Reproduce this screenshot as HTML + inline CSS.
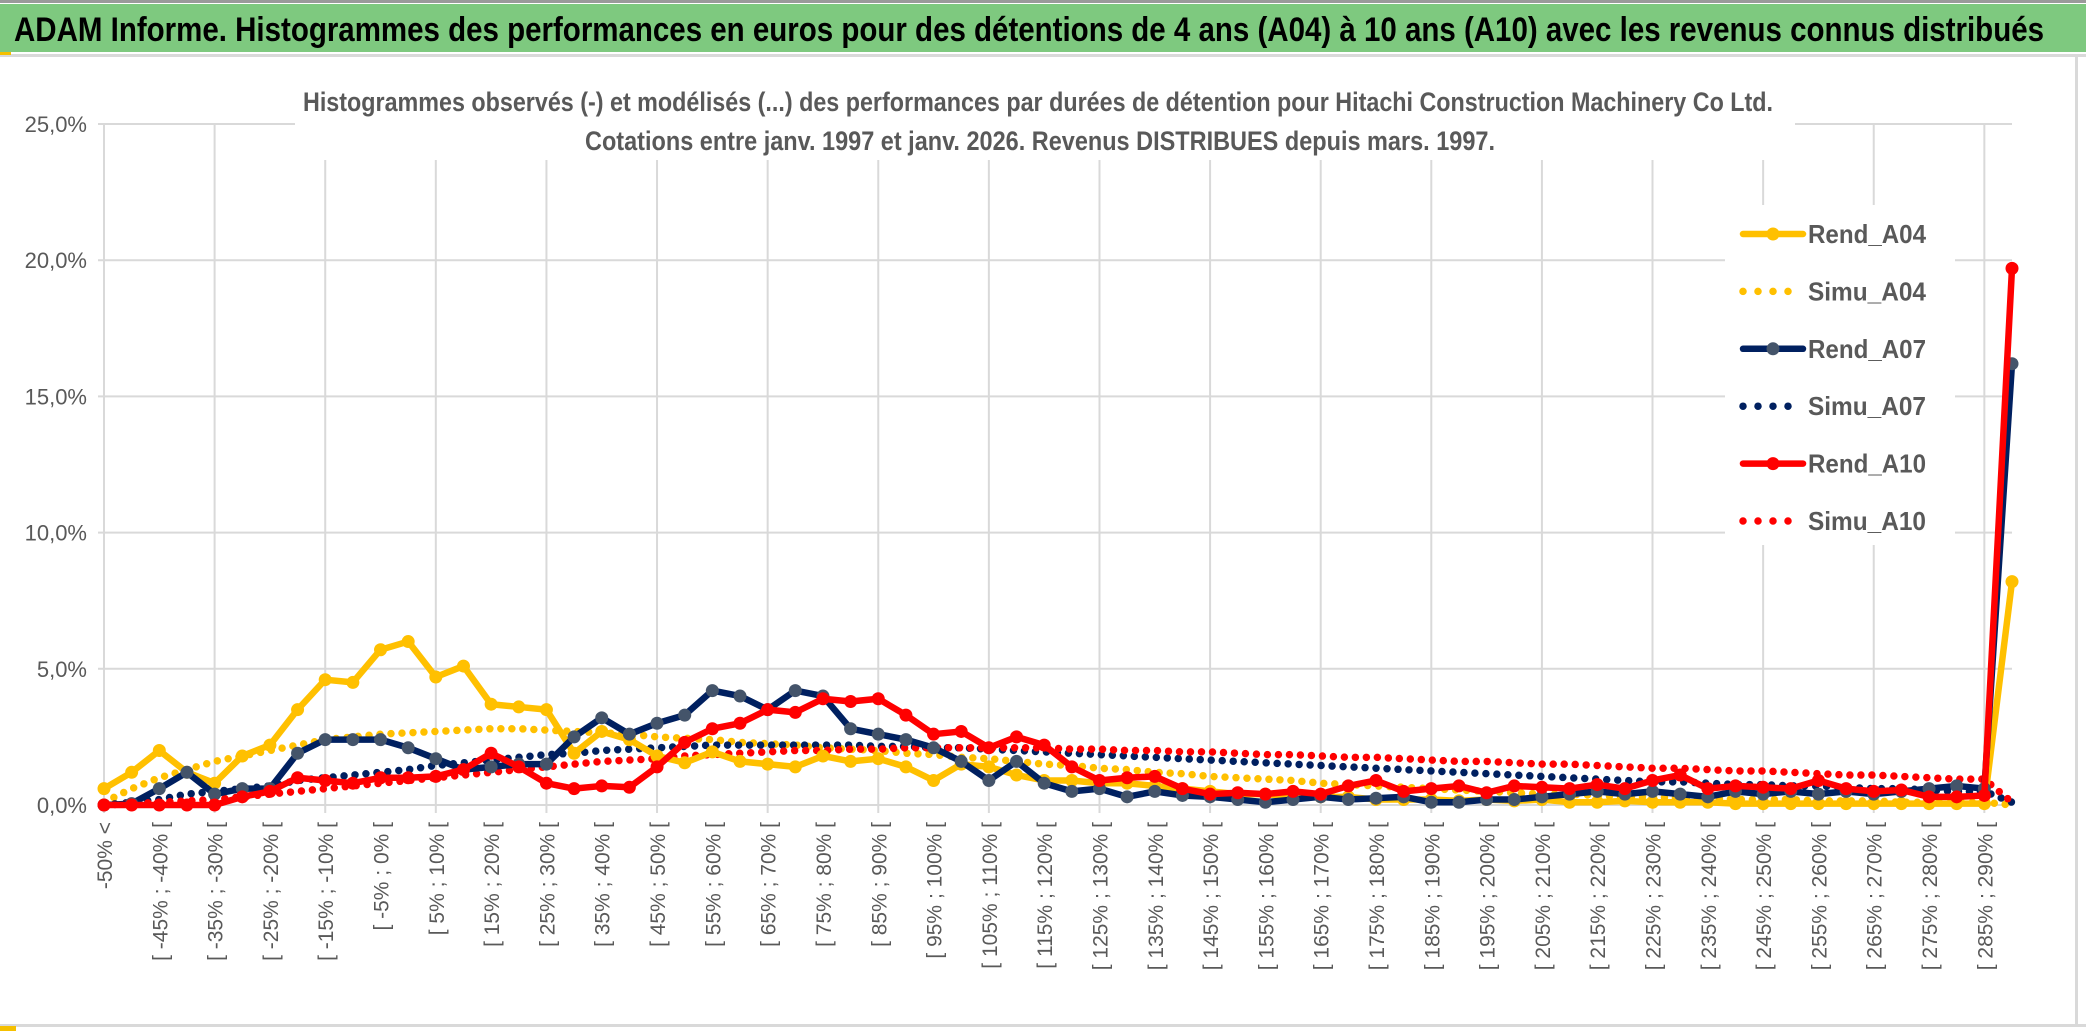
<!DOCTYPE html>
<html><head><meta charset="utf-8"><style>
html,body{margin:0;padding:0;background:#fff;}
svg{display:block;font-family:"Liberation Sans",sans-serif;}
</style></head><body>
<svg id="chart" width="2086" height="1033" viewBox="0 0 2086 1033" xmlns="http://www.w3.org/2000/svg">
<rect x="0" y="0" width="2086" height="1033" fill="#fff"/>
<rect x="0" y="0" width="2086" height="3" fill="#9a9a9a"/>
<rect x="0" y="4" width="2086" height="48" fill="#7ec97f"/>
<text x="14" y="41" font-size="34" font-weight="bold" fill="#000" textLength="2030" lengthAdjust="spacingAndGlyphs">ADAM Informe. Histogrammes des performances en euros pour des détentions de 4 ans (A04) à 10 ans (A10) avec les revenus connus distribués</text>
<rect x="0" y="54" width="2086" height="3" fill="#d9d9d9"/>
<rect x="0" y="52" width="11" height="3" fill="#f5c000"/>
<rect x="0" y="1024" width="2086" height="3" fill="#d9d9d9"/>
<rect x="0" y="1026" width="16" height="5" fill="#f5c000"/>
<rect x="2075" y="55" width="3" height="972" fill="#d9d9d9"/>
<g id="grid"></g>
<g id="ylabels"></g>
<g id="xlabels"></g>
<rect x="295" y="80" width="1500" height="80" fill="#fff"/>
<text x="1038" y="111" font-size="27" font-weight="bold" fill="#595959" text-anchor="middle" textLength="1470" lengthAdjust="spacingAndGlyphs">Histogrammes observés (-) et modélisés (...) des performances par durées de détention pour Hitachi Construction Machinery Co Ltd.</text>
<text x="1040" y="150" font-size="27" font-weight="bold" fill="#595959" text-anchor="middle" textLength="910" lengthAdjust="spacingAndGlyphs">Cotations entre janv. 1997 et janv. 2026. Revenus DISTRIBUES depuis mars. 1997.</text>
<rect x="1725" y="205" width="230" height="340" fill="#fff"/>
<g id="series"></g>
<g id="legend"></g>
</svg>
<script>
const categories = (function(){const a=["-50% <"];for(let lo=-50;lo<=285;lo+=5){a.push("[ "+lo+"% ; "+(lo+5)+"% [");}a.push("> 290%");return a;})();
const yTicks = [0,5,10,15,20,25];
const yTickLabels = ["0,0%","5,0%","10,0%","15,0%","20,0%","25,0%"];
const rendA04 = [0.6,1.2,2.0,1.2,0.8,1.8,2.2,3.5,4.6,4.5,5.7,6.0,4.7,5.1,3.7,3.6,3.5,1.9,2.7,2.4,1.8,1.55,1.95,1.6,1.5,1.4,1.8,1.6,1.7,1.4,0.9,1.5,1.4,1.1,0.9,0.9,0.8,0.8,0.7,0.6,0.5,0.4,0.4,0.3,0.3,0.3,0.2,0.2,0.2,0.15,0.2,0.15,0.2,0.1,0.1,0.15,0.1,0.1,0.1,0.05,0.05,0.05,0.05,0.05,0.05,0.05,0.05,0.05,0.05,8.2];
const simuA04 = [0.1,0.6,1.0,1.3,1.6,1.8,2.0,2.2,2.4,2.5,2.6,2.65,2.7,2.75,2.8,2.8,2.75,2.7,2.65,2.6,2.5,2.45,2.4,2.3,2.25,2.2,2.1,2.05,2.0,1.9,1.85,1.75,1.7,1.6,1.5,1.45,1.35,1.3,1.2,1.15,1.05,1.0,0.95,0.9,0.8,0.75,0.7,0.65,0.6,0.55,0.5,0.45,0.4,0.4,0.35,0.3,0.3,0.25,0.25,0.2,0.2,0.2,0.15,0.15,0.15,0.1,0.1,0.1,0.1,0.0];
const rendA07 = [0.0,0.05,0.6,1.2,0.4,0.6,0.6,1.9,2.4,2.4,2.4,2.1,1.7,1.3,1.4,1.5,1.5,2.5,3.2,2.6,3.0,3.3,4.2,4.0,3.5,4.2,4.0,2.8,2.6,2.4,2.1,1.6,0.9,1.6,0.8,0.5,0.6,0.3,0.5,0.35,0.3,0.2,0.1,0.2,0.3,0.2,0.25,0.3,0.1,0.1,0.2,0.2,0.3,0.4,0.5,0.4,0.5,0.4,0.3,0.5,0.4,0.5,0.4,0.5,0.4,0.5,0.6,0.7,0.6,16.2];
const simuA07 = [0.0,0.1,0.2,0.4,0.5,0.6,0.7,0.9,1.0,1.1,1.2,1.3,1.45,1.55,1.65,1.75,1.85,1.9,2.0,2.05,2.1,2.15,2.2,2.2,2.2,2.2,2.2,2.2,2.15,2.15,2.1,2.1,2.05,2.0,1.95,1.9,1.85,1.8,1.75,1.7,1.65,1.6,1.55,1.5,1.45,1.4,1.35,1.3,1.25,1.2,1.15,1.1,1.05,1.0,0.95,0.9,0.85,0.85,0.8,0.75,0.75,0.7,0.7,0.65,0.6,0.6,0.55,0.5,0.5,0.1];
const rendA10 = [0.0,0.0,0.0,0.0,0.0,0.3,0.5,1.0,0.9,0.8,1.0,1.0,1.05,1.3,1.9,1.4,0.8,0.6,0.7,0.65,1.4,2.3,2.8,3.0,3.5,3.4,3.9,3.8,3.9,3.3,2.6,2.7,2.1,2.5,2.2,1.4,0.9,1.0,1.05,0.6,0.4,0.45,0.4,0.5,0.4,0.7,0.9,0.5,0.6,0.7,0.45,0.7,0.65,0.6,0.75,0.6,0.9,1.1,0.6,0.7,0.65,0.6,0.9,0.6,0.5,0.55,0.3,0.3,0.35,19.7];
const simuA10 = [0.0,0.05,0.1,0.15,0.2,0.3,0.4,0.5,0.6,0.7,0.8,0.9,1.0,1.1,1.2,1.3,1.4,1.5,1.6,1.65,1.7,1.8,1.85,1.9,1.95,2.0,2.0,2.05,2.05,2.1,2.1,2.1,2.1,2.1,2.1,2.05,2.05,2.0,2.0,1.95,1.95,1.9,1.85,1.85,1.8,1.75,1.75,1.7,1.65,1.6,1.6,1.55,1.5,1.5,1.45,1.4,1.35,1.35,1.3,1.25,1.25,1.2,1.15,1.1,1.1,1.05,1.0,0.95,0.95,0.1];
const seriesNames = ["Rend_A04","Simu_A04","Rend_A07","Simu_A07","Rend_A10","Simu_A10"];

const NS="http://www.w3.org/2000/svg";
const X0=104, X1=2012, Y0=805, Y25=124;
function xPos(i){return X0+(X1-X0)*i/(categories.length-1);}
function yPos(v){return Y0-(Y0-Y25)*v/25;}
function mk(tag,attrs,parent){const e=document.createElementNS(NS,tag);for(const k in attrs)e.setAttribute(k,attrs[k]);parent.appendChild(e);return e;}

const grid=document.getElementById('grid');
yTicks.forEach(function(t){
  const l=mk('line',{x1:X0-6,x2:X1,y1:yPos(t),y2:yPos(t),stroke:'#d9d9d9','stroke-width':2},grid);
  
  
});
for(let i=0;i<categories.length;i+=4){
  const l=mk('line',{x1:xPos(i),x2:xPos(i),y1:Y25,y2:Y0+8,stroke:'#d9d9d9','stroke-width':2},grid);
  
  
}
const yl=document.getElementById('ylabels');
yTicks.forEach(function(t,k){
  const e=mk('text',{x:87,y:yPos(t)+8,'font-size':22,fill:'#595959','text-anchor':'end'},yl);
  e.textContent=yTickLabels[k];
  
  
});
const xl=document.getElementById('xlabels');
for(let i=0;i<categories.length-1;i+=2){
  const x=xPos(i)+8, y=822;
  const e=mk('text',{x:x,y:y,'font-size':21,fill:'#595959','text-anchor':'end',transform:'rotate(-90 '+x+' '+y+')'},xl);
  e.textContent=categories[i];
  
  
}
const sg=document.getElementById('series');
function pts(arr){return arr.map(function(v,i){return xPos(i)+','+yPos(v);}).join(' ');}
function dotted(arr,color,name){
  const p=mk('polyline',{points:pts(arr),fill:'none',stroke:color,'stroke-width':7.5,'stroke-linecap':'round','stroke-dasharray':'0 11'},sg);
  
  
}
function solid(arr,color,mcolor,name){
  const p=mk('polyline',{points:pts(arr),fill:'none',stroke:color,'stroke-width':6.5,'stroke-linejoin':'round'},sg);
  
  
  arr.forEach(function(v,i){
    const c=mk('circle',{cx:xPos(i),cy:yPos(v),r:6.5,fill:mcolor},sg);
    
    
  });
}
dotted(simuA04,'#ffc000','simu-a04-line');
dotted(simuA07,'#002060','simu-a07-line');
dotted(simuA10,'#ff0000','simu-a10-line');
solid(rendA04,'#ffc000','#ffc000','rend-a04-line');
solid(rendA07,'#002060','#44546a','rend-a07-line');
solid(rendA10,'#ff0000','#ff0000','rend-a10-line');

const lg=document.getElementById('legend');
const lcol=['#ffc000','#ffc000','#002060','#002060','#ff0000','#ff0000'];
const lmark=['#ffc000',null,'#44546a',null,'#ff0000',null];
seriesNames.forEach(function(n,k){
  const y=234+k*57.4;
  const g=mk('g',{},lg);
  
  
  if(lmark[k]){
    mk('line',{x1:1743,x2:1803,y1:y,y2:y,stroke:lcol[k],'stroke-width':6.5,'stroke-linecap':'round'},g);
    mk('circle',{cx:1773,cy:y,r:6.5,fill:lmark[k]},g);
  } else {
    mk('line',{x1:1743,x2:1803,y1:y,y2:y,stroke:lcol[k],'stroke-width':7.5,'stroke-linecap':'round','stroke-dasharray':'0 15'},g);
  }
  const t=mk('text',{x:1808,y:y+9,'font-size':26,'font-weight':'bold',fill:'#595959',textLength:118,lengthAdjust:'spacingAndGlyphs'},g);
  t.textContent=n;
});
</script>
</body></html>
